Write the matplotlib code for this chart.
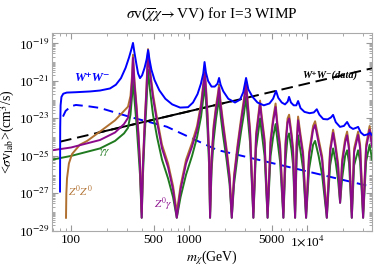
import numpy as np
import matplotlib
matplotlib.use("Agg")
import matplotlib.pyplot as plt
from matplotlib.ticker import LogLocator, FixedLocator, FixedFormatter, NullFormatter

plt.rcParams["font.family"] = ["Liberation Serif", "DejaVu Serif"]
plt.rcParams["mathtext.fontset"] = "stix"

# W+W- (Sommerfeld) : mass [GeV], log10(sigma v [cm^3/s])
ww_m = [80.7, 81.0, 81.6, 83, 86, 92, 110, 145, 176, 214, 240, 265, 290, 310, 325,
        335, 345, 358, 370, 384, 400, 420, 437, 450, 462, 480, 510, 560, 630, 720,
        840, 980, 1080, 1180, 1260, 1320, 1353, 1390, 1450, 1550, 1650, 1740, 1796,
        1850, 1950, 2150, 2450, 2700, 2880, 3041, 3180, 3450, 3800, 4300, 4800,
        5150, 5458, 5700, 6100, 6500, 6850, 7032, 7300, 7700, 8100, 8393, 8800,
        9500, 10500, 11400, 12080, 12700, 13700, 14900, 15900, 16600, 17500,
        19000, 20500, 21830, 23000, 24500, 26000, 27050, 28500, 30400, 32500,
        34200, 35560]
ww_log = [-26.9, -23.5, -22.3, -21.85, -21.68, -21.62, -21.6, -21.56, -21.51, -21.4,
          -21.2, -20.85, -20.3, -19.75, -19.3, -18.97, -19.5, -20.1, -20.6, -20.85,
          -20.7, -20.3, -19.85, -19.35, -19.85, -20.4, -20.95, -21.5, -21.95, -22.25,
          -22.42, -22.4, -22.15, -21.7, -21.15, -20.6, -19.99, -20.55, -21.0, -21.3,
          -21.3, -21.15, -20.84, -21.2, -21.55, -21.95, -22.15, -22.0, -21.6, -20.84,
          -21.45, -21.85, -22.15, -22.3, -22.2, -21.95, -21.53, -21.9, -22.15, -22.25,
          -22.1, -21.85, -22.15, -22.3, -22.3, -22.07, -22.45, -22.65, -22.72, -22.68,
          -22.51, -22.8, -23.03, -23.05, -22.95, -22.81, -23.2, -23.45, -23.4, -23.19,
          -23.45, -23.56, -23.5, -23.45, -23.75, -23.9, -23.85, -23.77, -23.9]

# W+W- without Sommerfeld enhancement (dashed)
ww0_m = [85.5, 90, 100, 110, 140, 176, 316, 647, 1726, 35560]
ww0_log = [-22.9, -22.6, -22.35, -22.28, -22.35, -22.44, -22.92, -23.44, -24.68, -26.65]

# W+W- (data) limit
wwd_m = [80.7, 36200]
wwd_log = [-24.24, -20.31]
wwd_solid_m = [170, 2300]
wwd_solid_log = [-23.76, -22.08]

# Z0 gamma
zg_m = [69, 100, 176, 236, 281, 304, 319, 329, 335, 345, 359, 373, 384, 397, 407,
        420, 436, 449, 467, 495, 536, 590, 664, 732, 787, 847, 943, 1060, 1169, 1264,
        1327, 1359, 1394, 1435, 1478, 1507, 1551, 1613, 1694, 1762, 1796, 1849, 1942,
        2079, 2204, 2301, 2406, 2576, 2758, 2925, 3041, 3131, 3288, 3507, 3697, 3882,
        3997, 4116, 4363, 4627, 4906, 5151, 5409, 5569, 5905, 6298, 6574, 6835, 7039,
        7390, 7611, 7914, 8149, 8391, 8726, 9250, 9806, 10396, 11240, 11690, 12520,
        13400, 14690, 15670, 16610, 17440, 18310, 19040, 19800, 20990, 21830, 22690,
        23920, 25020, 27050, 28130, 29830, 31620, 33860, 35540]
zg_log = [-24.7, -24.55, -24.15, -23.75, -23.3, -22.97, -22.2, -21.0, -19.77, -21.2,
          -22.5, -24.0, -25.5, -28.3, -25.5, -23.5, -21.5, -19.45, -20.6, -21.9, -23.2,
          -24.6, -25.6, -26.8, -28.3, -26.8, -25.4, -24.5, -23.6, -22.4, -21.2, -20.57,
          -21.6, -23.0, -25.0, -28.3, -25.3, -23.6, -22.5, -21.8, -21.37, -22.3, -23.4,
          -24.8, -26.2, -28.3, -26.2, -24.6, -23.2, -22.1, -21.21, -22.2, -23.8, -28.3,
          -24.0, -22.9, -22.2, -23.0, -24.3, -28.3, -24.3, -23.2, -22.39, -23.3, -24.6,
          -28.3, -24.4, -23.2, -23.0, -24.0, -24.8, -28.3, -24.5, -23.1, -23.9, -25.0,
          -28.3, -25.0, -23.6, -23.35, -24.3, -25.2, -28.3, -24.8, -23.77, -24.6, -25.6,
          -27.5, -25.4, -24.3, -23.9, -24.7, -28.3, -24.8, -23.88, -24.6, -28.3, -24.6,
          -23.6, -24.5]

# Z0 Z0
zz_m = [90.7, 91.3, 92.5, 96, 102, 119, 137, 176, 236, 281, 304, 319, 329, 335, 345,
        359, 373, 384, 397, 407, 420, 436, 449, 467, 495, 536, 590, 664, 732, 787,
        847, 943, 1060, 1169, 1264, 1327, 1359, 1394, 1435, 1478, 1507, 1551, 1613,
        1694, 1762, 1796, 1849, 1942, 2079, 2204, 2301, 2406, 2576, 2758, 2925, 3041,
        3131, 3288, 3507, 3697, 3882, 3997, 4116, 4363, 4627, 4906, 5151, 5409, 5569,
        5905, 6298, 6574, 6835, 7039, 7390, 7611, 7914, 8149, 8391, 8726, 9250, 9806,
        10396, 11240, 11690, 12520, 13400, 14690, 15670, 16610, 17440, 18310, 19040,
        19800, 20990, 21830, 22690, 23920, 25020, 27050, 28130, 29830, 31620, 33860,
        35540]
zz_log = [-28.3, -27.0, -26.2, -25.4, -24.9, -24.4, -24.2, -23.7, -23.1, -22.6, -22.37,
          -21.8, -20.7, -19.6, -21.0, -22.3, -23.8, -25.3, -28.0, -25.3, -23.3, -21.3,
          -19.3, -20.4, -21.7, -23.0, -24.4, -25.4, -26.6, -28.0, -26.6, -25.2, -24.3,
          -23.4, -22.2, -21.0, -20.4, -21.4, -22.8, -24.8, -28.0, -25.1, -23.4, -22.3,
          -21.6, -21.2, -22.1, -23.2, -24.6, -26.0, -28.0, -26.0, -24.4, -23.0, -21.9,
          -21.05, -22.0, -23.6, -28.0, -23.8, -22.7, -22.05, -22.8, -24.1, -28.0,
          -24.1, -23.0, -22.2, -23.1, -24.4, -28.0, -24.2, -23.0, -22.8, -23.8, -24.6,
          -28.0, -24.3, -22.9, -23.7, -24.8, -28.0, -24.8, -23.4, -23.15, -24.1, -25.0,
          -28.0, -24.6, -23.6, -24.4, -25.4, -27.3, -25.2, -24.1, -23.7, -24.5, -28.0,
          -24.6, -23.7, -24.4, -28.0, -24.4, -23.4, -24.3]

# gamma gamma
gg_m = [69, 100, 176, 236, 281, 304, 319, 329, 335, 345, 359, 373, 384, 397, 407, 420,
        436, 449, 467, 495, 536, 590, 664, 732, 787, 847, 943, 1060, 1169, 1264, 1327,
        1359, 1394, 1435, 1478, 1507, 1551, 1613, 1694, 1762, 1796, 1849, 1942, 2079,
        2204, 2301, 2406, 2576, 2758, 2925, 3041, 3131, 3288, 3507, 3697, 3882, 3997,
        4116, 4363, 4627, 4906, 5151, 5409, 5569, 5905, 6298, 6574, 6835, 7039, 7390,
        7611, 7914, 8149, 8391, 8726, 9250, 9806, 10396, 11240, 11690, 12520, 13400,
        14690, 15670, 16610, 17440, 18310, 19040, 19800, 20990, 21830, 22690, 23920,
        25020, 27050, 28130, 29830, 31620, 33860, 35540]
gg_log = [-25.2, -25.0, -24.6, -24.2, -23.8, -23.5, -22.8, -21.8, -20.7, -22.0, -23.3,
          -24.8, -26.0, -28.3, -26.0, -24.0, -22.2, -20.4, -21.5, -22.8, -24.0, -25.2,
          -26.2, -27.2, -28.3, -27.2, -26.0, -25.0, -24.0, -22.9, -21.8, -21.05, -22.2,
          -23.6, -25.5, -28.3, -25.8, -24.2, -23.0, -22.3, -21.85, -22.8, -23.9, -25.2,
          -26.5, -28.3, -26.5, -25.0, -23.7, -22.7, -21.85, -22.8, -24.3, -28.3, -24.6,
          -23.6, -23.0, -23.7, -25.0, -28.3, -25.0, -24.0, -23.3, -24.0, -25.3, -28.3,
          -25.2, -24.0, -23.8, -24.7, -25.5, -28.3, -25.2, -23.9, -24.6, -25.7, -28.3,
          -25.7, -24.4, -24.2, -25.0, -26.0, -28.3, -25.5, -24.6, -25.3, -26.3, -27.5,
          -26.2, -25.0, -24.7, -25.4, -28.3, -25.5, -24.7, -25.3, -28.3, -25.3, -24.4,
          -25.2]

fig = plt.figure(figsize=(3.74, 2.71), dpi=100)
ax = fig.add_axes([0.139, 0.148, 0.856, 0.73])

lw = 1.4
ax.plot(ww0_m, 10.0 ** np.array(ww0_log), color="#0000ff", lw=lw, ls=(0, (5, 3)))
ax.plot(wwd_m, 10.0 ** np.array(wwd_log), color="black", lw=lw, ls=(0, (6, 3)))
ax.plot(wwd_solid_m, 10.0 ** np.array(wwd_solid_log), color="black", lw=lw)
ax.plot(gg_m, 10.0 ** np.array(gg_log), color="#1f7a1f", lw=lw)
ax.plot(zz_m, 10.0 ** np.array(zz_log), color="#b07030", lw=lw)
ax.plot(zg_m, 10.0 ** np.array(zg_log), color="#8b0a8b", lw=lw)
ax.plot(ww_m, 10.0 ** np.array(ww_log), color="#0000ff", lw=lw)

ax.set_xscale("log")
ax.set_yscale("log")
ax.set_xlim(69, 35560)
ax.set_ylim(1e-29, 3.6e-19)

xt = [100, 500, 1000, 5000, 10000]
ax.xaxis.set_major_locator(FixedLocator(xt))
ax.xaxis.set_major_formatter(FixedFormatter(["100", "500", "1000", "5000", r"1$\times$10$^4$"]))
ax.xaxis.set_minor_locator(LogLocator(base=10, subs=np.arange(2, 10)))
ax.xaxis.set_minor_formatter(NullFormatter())

yt = [1e-29, 1e-27, 1e-25, 1e-23, 1e-21, 1e-19]
ax.yaxis.set_major_locator(FixedLocator(yt))
ax.yaxis.set_major_formatter(FixedFormatter([r"10$^{-29}$", r"10$^{-27}$", r"10$^{-25}$",
                                             r"10$^{-23}$", r"10$^{-21}$", r"10$^{-19}$"]))
ax.yaxis.set_minor_locator(LogLocator(base=10, subs=np.arange(1, 10), numticks=30))
ax.yaxis.set_minor_formatter(NullFormatter())

for s in ax.spines.values():
    s.set_color("#aaaaaa")
    s.set_linewidth(0.8)
ax.tick_params(which="both", direction="in", top=True, right=True, color="#999999",
               labelsize=9.5, pad=2)
ax.tick_params(which="major", length=4)
ax.tick_params(which="minor", length=2)

ax.set_title(r"$\sigma$v($\overline{\chi}\chi\!\rightarrow$VV) for I=3 WIMP", fontsize=11, pad=11)
ax.set_xlabel(r"$m_\chi$(GeV)", fontsize=10, labelpad=0)
ax.set_ylabel(r"<$\sigma$v$_{\rm lab}$>(cm$^3$/s)", fontsize=10, labelpad=1)

ax.text(150, 10 ** -20.84, "W⁺W⁻", color="#0000ff", fontsize=9, fontweight="bold",
        fontstyle="italic", ha="center", va="center")
ax.text(15700, 10 ** -20.68, "W⁺W⁻(data)", color="black", fontsize=7.5, fontweight="bold",
        fontstyle="italic", ha="center", va="center")
ax.text(194, 10 ** -24.84, r"$\gamma\gamma$", color="#1f7a1f", fontsize=8,
        ha="center", va="center")
ax.text(119, 10 ** -26.92, r"$Z^0Z^0$", color="#b07030", fontsize=8,
        ha="center", va="center")
ax.text(603, 10 ** -27.6, r"$Z^0\gamma$", color="#8b0a8b", fontsize=8,
        ha="center", va="center")

plt.savefig("out.png", dpi=100)
